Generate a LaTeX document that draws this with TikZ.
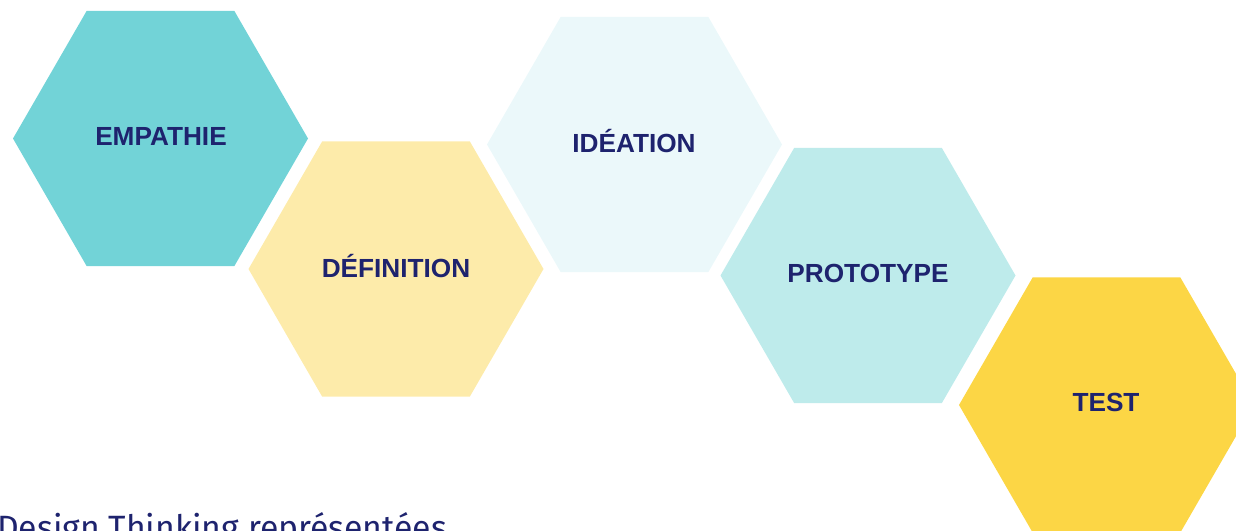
\documentclass[tikz,border=0pt]{standalone}
\usepackage{fontspec}
\setmainfont{Liberation Sans}
\newfontfamily\capfont{Fira Sans}
\definecolor{navy}{RGB}{30,35,110}
\definecolor{cEmp}{RGB}{114,211,215}
\definecolor{cDef}{RGB}{253,235,170}
\definecolor{cIde}{RGB}{235,248,250}
\definecolor{cPro}{RGB}{190,235,235}
\definecolor{cTes}{RGB}{252,214,69}
\tikzset{
  hexlabel/.style={text=navy, font=\fontsize{26.2}{29}\selectfont\bfseries, inner sep=0pt, anchor=center},
  caption/.style={text=navy, font=\capfont\fontsize{33.7}{38}\selectfont, inner sep=0pt, anchor=base west}
}
\newcommand{\hexfill}[3]{%
  \fill[#3] (#1,#2) ++(147.5,0) -- ++(120:147.5) -- ++(180:147.5) -- ++(240:147.5) -- ++(300:147.5) -- ++(0:147.5) -- cycle;}
\begin{document}
\begin{tikzpicture}[x=1pt,y=-1pt]
\useasboundingbox (0,0) rectangle (1236,530);
\clip (0,0) rectangle (1236,530);
\hexfill{160.5}{138.5}{cEmp}
\hexfill{396}{269}{cDef}
\hexfill{634.5}{144.5}{cIde}
\hexfill{868}{275.5}{cPro}
\hexfill{1106.5}{405}{cTes}
\node[hexlabel] (emp) at (161,136) {EMPATHIE};
\node[hexlabel] (def) at (396,266) {DÉFINITION};
\node[hexlabel] (ide) at (634,141) {IDÉATION};
\node[hexlabel] (pro) at (868,273) {PROTOTYPE};
\node[hexlabel] (tes) at (1106,402) {TEST};
\node[caption] (cap) at (-3,539) {Design Thinking représentées};
\end{tikzpicture}
\end{document}
